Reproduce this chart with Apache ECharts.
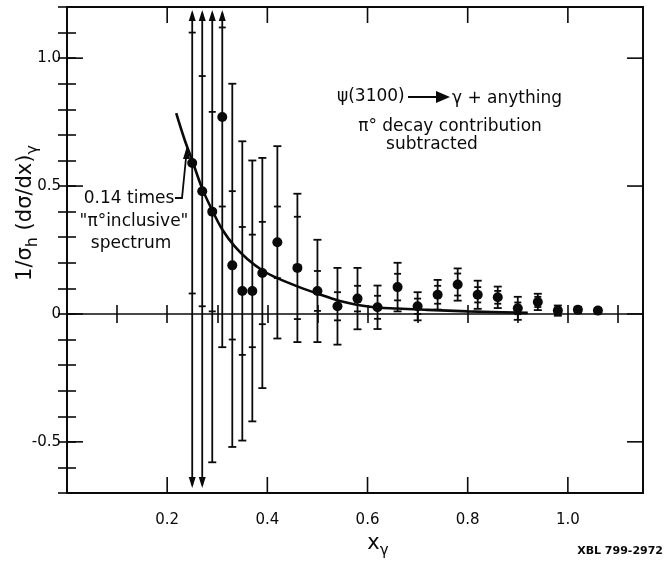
<!DOCTYPE html>
<html><head><meta charset="utf-8">
<script src="https://cdn.jsdelivr.net/npm/echarts@6/dist/echarts.min.js"></script>
<style>html,body{margin:0;padding:0;background:#fff}#c{width:665px;height:563px}</style>
</head><body><div id="c"></div>
<script>
// ---- data ----
const xVals    = [0.25,0.27,0.29,0.31,0.33,0.35,0.37,0.39,0.42,0.46,0.50,0.54,0.58,0.62,0.66,0.70,0.74,0.78,0.82,0.86,0.90,0.94,0.98,1.02,1.06];
const yVals    = [0.59,0.48,0.40,0.77,0.19,0.09,0.09,0.16,0.28,0.18,0.09,0.03,0.06,0.026,0.105,0.03,0.075,0.115,0.075,0.065,0.022,0.047,0.013,0.016,0.013];
const outerErr = [1.5,1.5,0.98,0.9,0.71,0.585,0.51,0.45,0.376,0.29,0.20,0.15,0.12,0.085,0.095,0.055,0.058,0.063,0.055,0.042,0.045,0.032,0.02,0.012,0.01];
const innerErr = [0.51,0.45,0.39,0.35,0.29,0.25,0.22,0.20,0.14,0.20,0.078,0.055,0.05,0.045,0.052,0.03,0.035,0.043,0.03,0.025,0.023,0.02,0.012,0.008,0.008];
const curveX   = [0.218,0.235,0.25,0.27,0.29,0.31,0.334,0.36,0.392,0.42,0.465,0.502,0.543,0.605,0.66,0.72,0.80,0.92];
const curveY   = [0.785,0.68,0.60,0.49,0.405,0.33,0.266,0.215,0.168,0.14,0.104,0.078,0.052,0.028,0.021,0.016,0.010,0.004];
const xMajorTicks = [0.2,0.4,0.6,0.8,1.0];
const xTickLabels = ['0.2','0.4','0.6','0.8','1.0'];
const yMajorTicks = [-0.5,0,0.5,1.0];
const yTickLabels = ['-0.5','0','0.5','1.0'];
const X_MIN = 0, X_MAX = 1.15, Y_MIN = -0.7, Y_MAX = 1.2;

const FONT = 'DejaVu Sans';
const INK = '#0a0a0a';
const chart = echarts.init(document.getElementById('c'), null, {renderer:'canvas'});

function labelFor(v, ticks, labels){
  for (let i=0;i<ticks.length;i++) if (Math.abs(v-ticks[i])<1e-6) return labels[i];
  return '';
}
const tickStyle = {show:true, inside:true, length:9, lineStyle:{color:INK, width:1.6}};
function xAx(pos, showLabel){
  return {type:'value', position:pos, min:X_MIN, max:X_MAX, interval:0.1,
    axisLine:{show:false}, splitLine:{show:false}, axisTick:tickStyle,
    axisLabel:{show:showLabel, margin:20, color:INK, fontSize:15, fontFamily:FONT,
      formatter:v=>labelFor(v,xMajorTicks,xTickLabels)}};
}
function yAx(pos, showLabel){
  return {type:'value', position:pos, min:Y_MIN, max:Y_MAX, interval:0.1,
    axisLine:{show:false}, splitLine:{show:false}, axisTick:tickStyle,
    axisLabel:{show:showLabel, margin:6, color:INK, fontSize:15, fontFamily:FONT,
      formatter:v=>labelFor(v,yMajorTicks,yTickLabels)}};
}

const errData = xVals.map((x,i)=>[x, yVals[i], outerErr[i], innerErr[i]]);
const curveData = curveX.map((x,i)=>[x, curveY[i]]);

function renderErr(params, api){
  const cs = params.coordSys;
  const x = api.value(0), y = api.value(1), eo = api.value(2), ei = api.value(3);
  const px = api.coord([x,y])[0];
  const pT = api.coord([x,y+eo])[1], pB = api.coord([x,y-eo])[1];
  const top = cs.y, bot = cs.y+cs.height;
  const st = {stroke:INK, lineWidth:1.8};
  const ch = [];
  const tClip = pT < top+3, bClip = pB > bot-3;
  const y1 = tClip ? top+6 : pT, y2 = bClip ? bot-8 : pB;
  ch.push({type:'line', shape:{x1:px,y1:y1,x2:px,y2:y2}, style:st});
  if (tClip) ch.push({type:'polygon', shape:{points:[[px,top+3],[px-3.5,top+14],[px+3.5,top+14]]}, style:{fill:INK}});
  else ch.push({type:'line', shape:{x1:px-4,y1:pT,x2:px+4,y2:pT}, style:st});
  if (bClip) ch.push({type:'polygon', shape:{points:[[px,bot-5],[px-3.5,bot-16],[px+3.5,bot-16]]}, style:{fill:INK}});
  else ch.push({type:'line', shape:{x1:px-4,y1:pB,x2:px+4,y2:pB}, style:st});
  [y+ei, y-ei].forEach(v=>{
    const py = api.coord([x,v])[1];
    if (py>top && py<bot) ch.push({type:'line', shape:{x1:px-3.5,y1:py,x2:px+3.5,y2:py}, style:st});
  });
  return {type:'group', children:ch};
}

function renderTicks(params, api){
  const cs = params.coordSys;
  const L = cs.x, R = cs.x+cs.width, T = cs.y, B = cs.y+cs.height;
  const st = {stroke:INK, lineWidth:1.6};
  const ch = [];
  xMajorTicks.forEach(v=>{
    const px = api.coord([v,0])[0];
    ch.push({type:'line', shape:{x1:px,y1:B,x2:px,y2:B-16}, style:st});
    ch.push({type:'line', shape:{x1:px,y1:T,x2:px,y2:T+16}, style:st});
  });
  yMajorTicks.forEach(v=>{
    const py = api.coord([0,v])[1];
    ch.push({type:'line', shape:{x1:L,y1:py,x2:L+16,y2:py}, style:st});
    ch.push({type:'line', shape:{x1:R,y1:py,x2:R-16,y2:py}, style:st});
  });
  return {type:'group', children:ch};
}

function gText(txt, x, y, size, align){
  return {type:'text', x:x, y:y,
    style:{text:txt, fill:INK, font: size+'px "'+FONT+'"', textAlign:align||'center', textVerticalAlign:'middle'}};
}

chart.setOption({
  animation:false,
  backgroundColor:'#fff',
  grid:{left:67, right:22, top:7, bottom:70, show:true, borderColor:INK, borderWidth:2, backgroundColor:'transparent'},
  xAxis:[xAx('bottom',true), xAx('top',false)],
  yAxis:[yAx('left',true), yAx('right',false)],
  series:[
    {type:'custom', name:'ticks', renderItem:renderTicks, data:[[0,0]], clip:false, silent:true, z:5},
    {type:'line', name:'0.14 x pi0 inclusive', data:curveData, smooth:0.35, showSymbol:false, symbol:'none',
      lineStyle:{color:INK, width:2.6}, z:3,
      markLine:{silent:true, symbol:'none', label:{show:false}, lineStyle:{color:INK, width:1.5, type:'solid'},
        data:[{yAxis:0}]}},
    {type:'custom', name:'errors', renderItem:renderErr, data:errData, clip:false, z:4},
    {type:'scatter', name:'data', data:errData.map(d=>[d[0],d[1]]), symbol:'circle', symbolSize:10,
      itemStyle:{color:INK, opacity:1}, z:6}
  ],
  graphic:[
    gText('ψ(3100)', 337, 97, 17, 'left'),
    {type:'line', shape:{x1:408,y1:97,x2:438,y2:97}, style:{stroke:INK, lineWidth:2}},
    {type:'polygon', shape:{points:[[450,97],[436,91],[436,103]]}, style:{fill:INK}},
    gText('γ + anything', 452, 99, 17, 'left'),
    gText('π° decay contribution', 450, 127, 17),
    gText('subtracted', 432, 145, 17),
    gText('0.14 times', 129, 199, 17),
    gText('"π°inclusive"', 134, 222, 17),
    gText('spectrum', 131, 244, 17),
    {type:'polyline', shape:{points:[[175,198],[182,198],[186,158]]}, style:{stroke:INK, lineWidth:1.8, fill:null}},
    {type:'polygon', shape:{points:[[187,146],[183,159],[190,159]]}, style:{fill:INK}},
    {type:'text', x:26, y:213, rotation:Math.PI/2,
      style:{text:'{n|1/σ}{s|h}{n| (dσ/dx)}{s|γ}', textAlign:'center', textVerticalAlign:'middle',
        rich:{n:{fontSize:21, fontFamily:FONT, fill:INK, lineHeight:30, verticalAlign:'middle'},
              s:{fontSize:16, fontFamily:FONT, fill:INK, lineHeight:16, verticalAlign:'bottom'}}}},
    {type:'text', x:378, y:544,
      style:{text:'{n|x}{s|γ}', textAlign:'center', textVerticalAlign:'middle',
        rich:{n:{fontSize:21, fontFamily:FONT, fill:INK, lineHeight:30, verticalAlign:'middle'},
              s:{fontSize:15, fontFamily:FONT, fill:INK, lineHeight:15, verticalAlign:'bottom'}}}},
    {type:'text', x:663, y:551, style:{text:'XBL 799-2972', fill:INK, font:'bold 11px "'+FONT+'"', textAlign:'right', textVerticalAlign:'middle'}}
  ]
});
</script></body></html>
